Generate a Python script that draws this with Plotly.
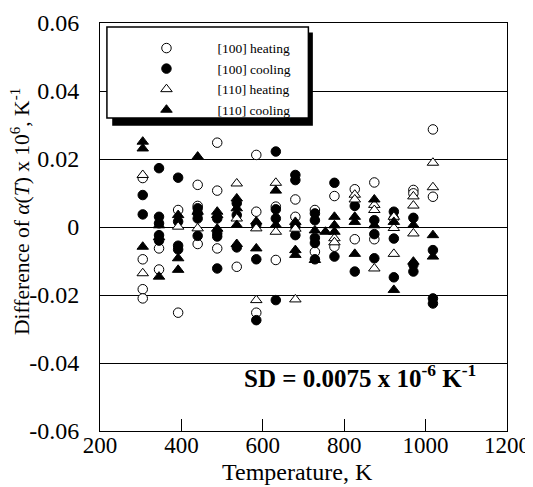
import plotly.graph_objs as go

# temperature (K) and difference of alpha(T) x 10^6 (K^-1)
heat100_T = [305, 305, 305, 305, 345, 345, 392, 392, 440, 440, 440, 488, 488, 488,
             536, 584, 584, 584, 632, 632, 680, 680, 728, 728, 776, 776, 826, 826,
             874, 874, 922, 970, 970, 1018, 1018]
heat100_v = [0.0144, -0.0095, -0.0183, -0.0210, -0.0063, -0.0125, 0.0050, -0.0252,
             0.0124, 0.0062, -0.0050, 0.0248, 0.0107, -0.0063, -0.0117, 0.0212,
             0.0045, -0.0252, 0.0060, -0.0097, 0.0081, 0.0030, 0.0050, -0.0073,
             0.0091, -0.0058, 0.0111, -0.0036, 0.0131, -0.0036, 0.0025, 0.0109,
             0.0099, 0.0287, 0.0089]

cool100_T = [305, 305, 345, 345, 345, 345, 345, 392, 392, 392, 392, 440, 440, 440, 440,
             488, 488, 488, 488, 536, 536, 536, 584, 584, 584, 632, 632, 632, 632,
             680, 680, 680, 680, 728, 728, 728, 728, 728, 776, 776, 826, 826,
             874, 874, 874, 922, 922, 922, 970, 970, 970, 1018, 1018, 1018]
cool100_v = [0.0094, 0.0037, 0.0173, 0.0030, 0.0011, -0.0024, -0.0040, 0.0145, 0.0016,
             -0.0055, -0.0066, 0.0055, 0.0040, 0.0025, -0.0026, 0.0025, -0.0019,
             -0.0028, -0.0122, 0.0070, 0.0035, -0.0060, 0.0006, -0.0095, -0.0274,
             0.0222, 0.0052, 0.0025, -0.0215, 0.0153, 0.0138, 0.0001, -0.0024,
             0.0040, 0.0020, -0.0032, -0.0047, -0.0095, 0.0130, -0.0087, 0.0062,
             -0.0131, 0.0020, -0.0021, -0.0092, 0.0045, -0.0034, -0.0148, 0.0027,
             -0.0111, -0.0131, -0.0068, -0.0210, -0.0225]

heat110_T = [305, 305, 392, 440, 536, 536, 584, 584, 632, 632, 680, 680, 776, 776,
             826, 826, 874, 874, 874, 922, 922, 922, 970, 970, 970, 1018, 1018]
heat110_v = [0.0153, -0.0136, 0.0001, -0.0004, 0.0128, 0.0025, -0.0004, -0.0215,
             0.0130, -0.0014, -0.0005, -0.0213, -0.0033, -0.0045, 0.0095, 0.0081,
             0.0065, 0.0050, -0.0122, 0.0030, -0.0003, -0.0079, 0.0090, 0.0063,
             -0.0019, 0.0189, 0.0117]

cool110_T = [305, 305, 305, 345, 345, 345, 392, 392, 392, 440, 440, 488, 488, 488,
             536, 536, 536, 536, 584, 584, 632, 632, 680, 680, 680, 728, 728, 754,
             776, 776, 776, 826, 826, 826, 874, 874, 922, 922, 970, 970, 1018, 1018]
cool110_v = [0.0251, 0.0231, -0.0058, 0.0005, -0.0030, -0.0146, 0.0035, -0.0092,
             -0.0126, 0.0207, 0.0045, 0.0045, 0.0035, -0.0005, 0.0084, 0.0055, 0.0006,
             -0.0050, 0.0016, -0.0063, 0.0107, 0.0006, 0.0015, -0.0068, -0.0082,
             -0.0010, -0.0097, -0.0014, 0.0030, 0.0005, -0.0014, 0.0030, 0.0015,
             -0.0079, 0.0081, 0.0005, 0.0015, -0.0185, 0.0006, -0.0102, -0.0024,
             -0.0087]

y_ticks = [-0.06, -0.04, -0.02, 0, 0.02, 0.04, 0.06]
y_ticktext = ['-0.06', '-0.04', '-0.02', '0', '0.02', '0.04', '0.06']
x_ticks = [200, 400, 600, 800, 1000, 1200]

serif = 'Liberation Serif, Times New Roman, serif'


def marker(symbol, filled, size):
    return dict(symbol=symbol, size=size, color='black' if filled else 'white',
                line=dict(color='black', width=1))


charts = [
    go.Scatter(x=heat100_T, y=heat100_v, mode='markers', name='[100] heating',
               marker=marker('circle', False, 9.5)),
    go.Scatter(x=cool100_T, y=cool100_v, mode='markers', name='[100] cooling',
               marker=marker('circle', True, 9.5)),
    go.Scatter(x=heat110_T, y=heat110_v, mode='markers', name='[110] heating',
               marker=marker('triangle-up', False, 10)),
    go.Scatter(x=cool110_T, y=cool110_v, mode='markers', name='[110] cooling',
               marker=marker('triangle-up', True, 10)),
]

# page body has an 8px margin, so the figure is 8px smaller and l/t are 8px less
fig = go.Figure(data=charts, layout=go.Layout({
    'width': 525,
    'height': 479,
    'margin': {'l': 92, 'r': 26, 't': 15, 'b': 56, 'autoexpand': False},
    'paper_bgcolor': 'white',
    'plot_bgcolor': 'white',
    'font': {'family': serif, 'size': 21, 'color': 'black'},
    'showlegend': True,
    'legend': {'x': 0.038, 'y': 0.976, 'xanchor': 'left', 'yanchor': 'top',
               'bgcolor': 'rgba(0,0,0,0)', 'font': {'size': 13.5, 'family': serif},
               'itemwidth': 92, 'tracegroupgap': 0},
    'xaxis': {'range': [200, 1200], 'tickvals': x_ticks, 'ticks': 'inside', 'ticklen': 12,
              'tickcolor': 'black', 'showline': True, 'linecolor': 'black', 'linewidth': 1,
              'mirror': True, 'showgrid': False, 'zeroline': False,
              'tickfont': {'size': 23}, 'ticklabelstandoff': -7},
    'yaxis': {'range': [-0.06, 0.06], 'tickvals': y_ticks, 'ticktext': y_ticktext,
              'ticks': '', 'showline': True, 'linecolor': 'black', 'linewidth': 1,
              'mirror': True, 'showgrid': True, 'gridcolor': 'black', 'gridwidth': 1.3,
              'zeroline': True, 'zerolinecolor': 'black', 'zerolinewidth': 1.3,
              'tickfont': {'size': 24}, 'ticklabelstandoff': 15},
}))

# legend frame with drop shadow
fig.add_shape(type='rect', xref='paper', yref='paper', x0=0.03, x1=0.523, y0=0.748, y1=0.977,
              fillcolor='black', line={'width': 0}, layer='above')
fig.add_shape(type='rect', xref='paper', yref='paper', x0=0.017, x1=0.512, y0=0.767, y1=0.99,
              fillcolor='white', line={'color': 'black', 'width': 1.5}, layer='above')

# axis titles
fig.add_annotation(x=-0.194, y=0.537, xref='paper', yref='paper', showarrow=False,
                   textangle=-90, xanchor='center', yanchor='middle',
                   text='Difference of <i>α</i>(<i>T</i>) x 10<sup>6</sup>, K<sup>-1</sup>',
                   font={'family': serif, 'size': 21.5, 'color': 'black'})
fig.add_annotation(x=0.485, y=-0.1, xref='paper', yref='paper', showarrow=False,
                   xanchor='center', yanchor='middle', text='Temperature, K',
                   font={'family': serif, 'size': 24, 'color': 'black'})

fig.add_annotation(x=0.929, y=0.135, xref='paper', yref='paper', showarrow=False,
                   xanchor='right', yanchor='middle',
                   text='<b>SD = 0.0075 x 10<sup>-6</sup> K<sup>-1</sup></b>',
                   font={'family': serif, 'size': 25, 'color': 'black'})

fig.write_html("out.html")
